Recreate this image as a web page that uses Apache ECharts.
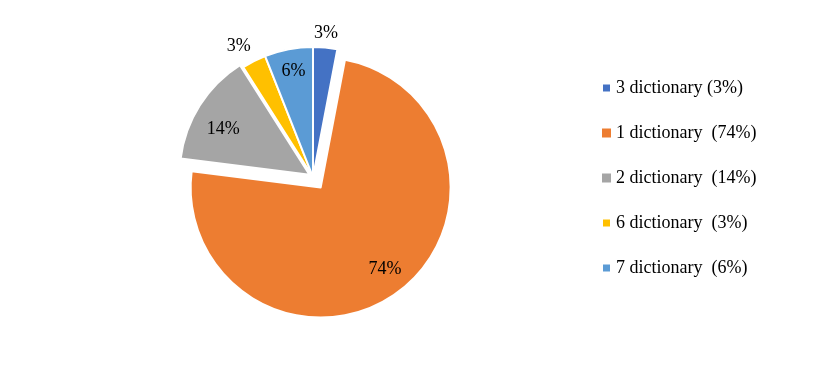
<!DOCTYPE html>
<html><head><meta charset="utf-8">
<script src="https://cdn.jsdelivr.net/npm/echarts@6/dist/echarts.min.js"></script>
<style>html,body{margin:0;padding:0;background:#fff}#c{width:820px;height:365px}</style>
</head><body><div id="c"></div>
<script>
const categories = ['3 dictionary (3%)', '1 dictionary  (74%)', '2 dictionary  (14%)', '6 dictionary  (3%)', '7 dictionary  (6%)'];
const values = [3, 74, 14, 3, 6];
const labelTexts = ['3%', '74%', '14%', '3%', '6%'];

// styling (not data)
const colors = ['#4472C4', '#ED7D31', '#A5A5A5', '#FFC000', '#5B9BD5'];
const insideLabel = [false, true, true, false, true];
const explode = [0, 13, 4, 0, 0];
const labelNudge = [[-1, 4], [0, -7], [6, 13], [-7, 1], [1, 2]];

const FONT = 'Liberation Serif';
const center = [313, 177];
const R = 130;

function items(mode, offset) {
  return categories.map((name, i) => {
    const inGroup = explode[i] === offset;
    const it = { name: name, value: values[i], selected: inGroup && offset > 0 };
    if (mode === 'visible') {
      it.itemStyle = inGroup ? { color: colors[i], borderColor: '#fff', borderWidth: 2 }
                             : { color: 'rgba(0,0,0,0)', borderWidth: 0 };
    } else {
      it.itemStyle = { color: 'rgba(0,0,0,0)', borderWidth: 0 };
      const show = inGroup && (mode === 'inner' ? insideLabel[i] : !insideLabel[i]);
      it.label = { show: show, formatter: labelTexts[i] };
    }
    return it;
  });
}

const base = {
  type: 'pie', center: center, startAngle: 90, clockwise: true,
  selectedMode: 'multiple', animation: false,
  emphasis: { disabled: true }, silent: true, avoidLabelOverlap: false,
  labelLine: { show: false }
};
const labelStyle = { show: true, position: 'inside', fontFamily: FONT, fontSize: 18, color: '#000' };
const nudge = p => ({ dx: labelNudge[p.dataIndex][0], dy: labelNudge[p.dataIndex][1] });

const groups = Array.from(new Set(explode));
const series = [];
groups.forEach(off => {
  series.push(Object.assign({}, base, {
    radius: R, selectedOffset: off, label: { show: false }, data: items('visible', off)
  }));
});
groups.forEach(off => {
  series.push(Object.assign({}, base, {
    radius: [83, R], selectedOffset: off, label: labelStyle, labelLayout: nudge, data: items('inner', off)
  }));
  series.push(Object.assign({}, base, {
    radius: [134, 156], selectedOffset: off, label: labelStyle, labelLayout: nudge, data: items('outer', off)
  }));
});

const chart = echarts.init(document.getElementById('c'), null, { renderer: 'canvas' });
chart.setOption({
  backgroundColor: '#fff',
  animation: false,
  legend: {
    orient: 'vertical', left: 596, top: 73,
    itemWidth: 9, itemHeight: 9, itemGap: 25, icon: 'rect',
    selectedMode: false,
    textStyle: { fontFamily: FONT, fontSize: 18, color: '#000', lineHeight: 20 },
    data: categories.map((n, i) => ({ name: n, itemStyle: { color: colors[i] } }))
  },
  series: series
});
</script>
</body></html>
